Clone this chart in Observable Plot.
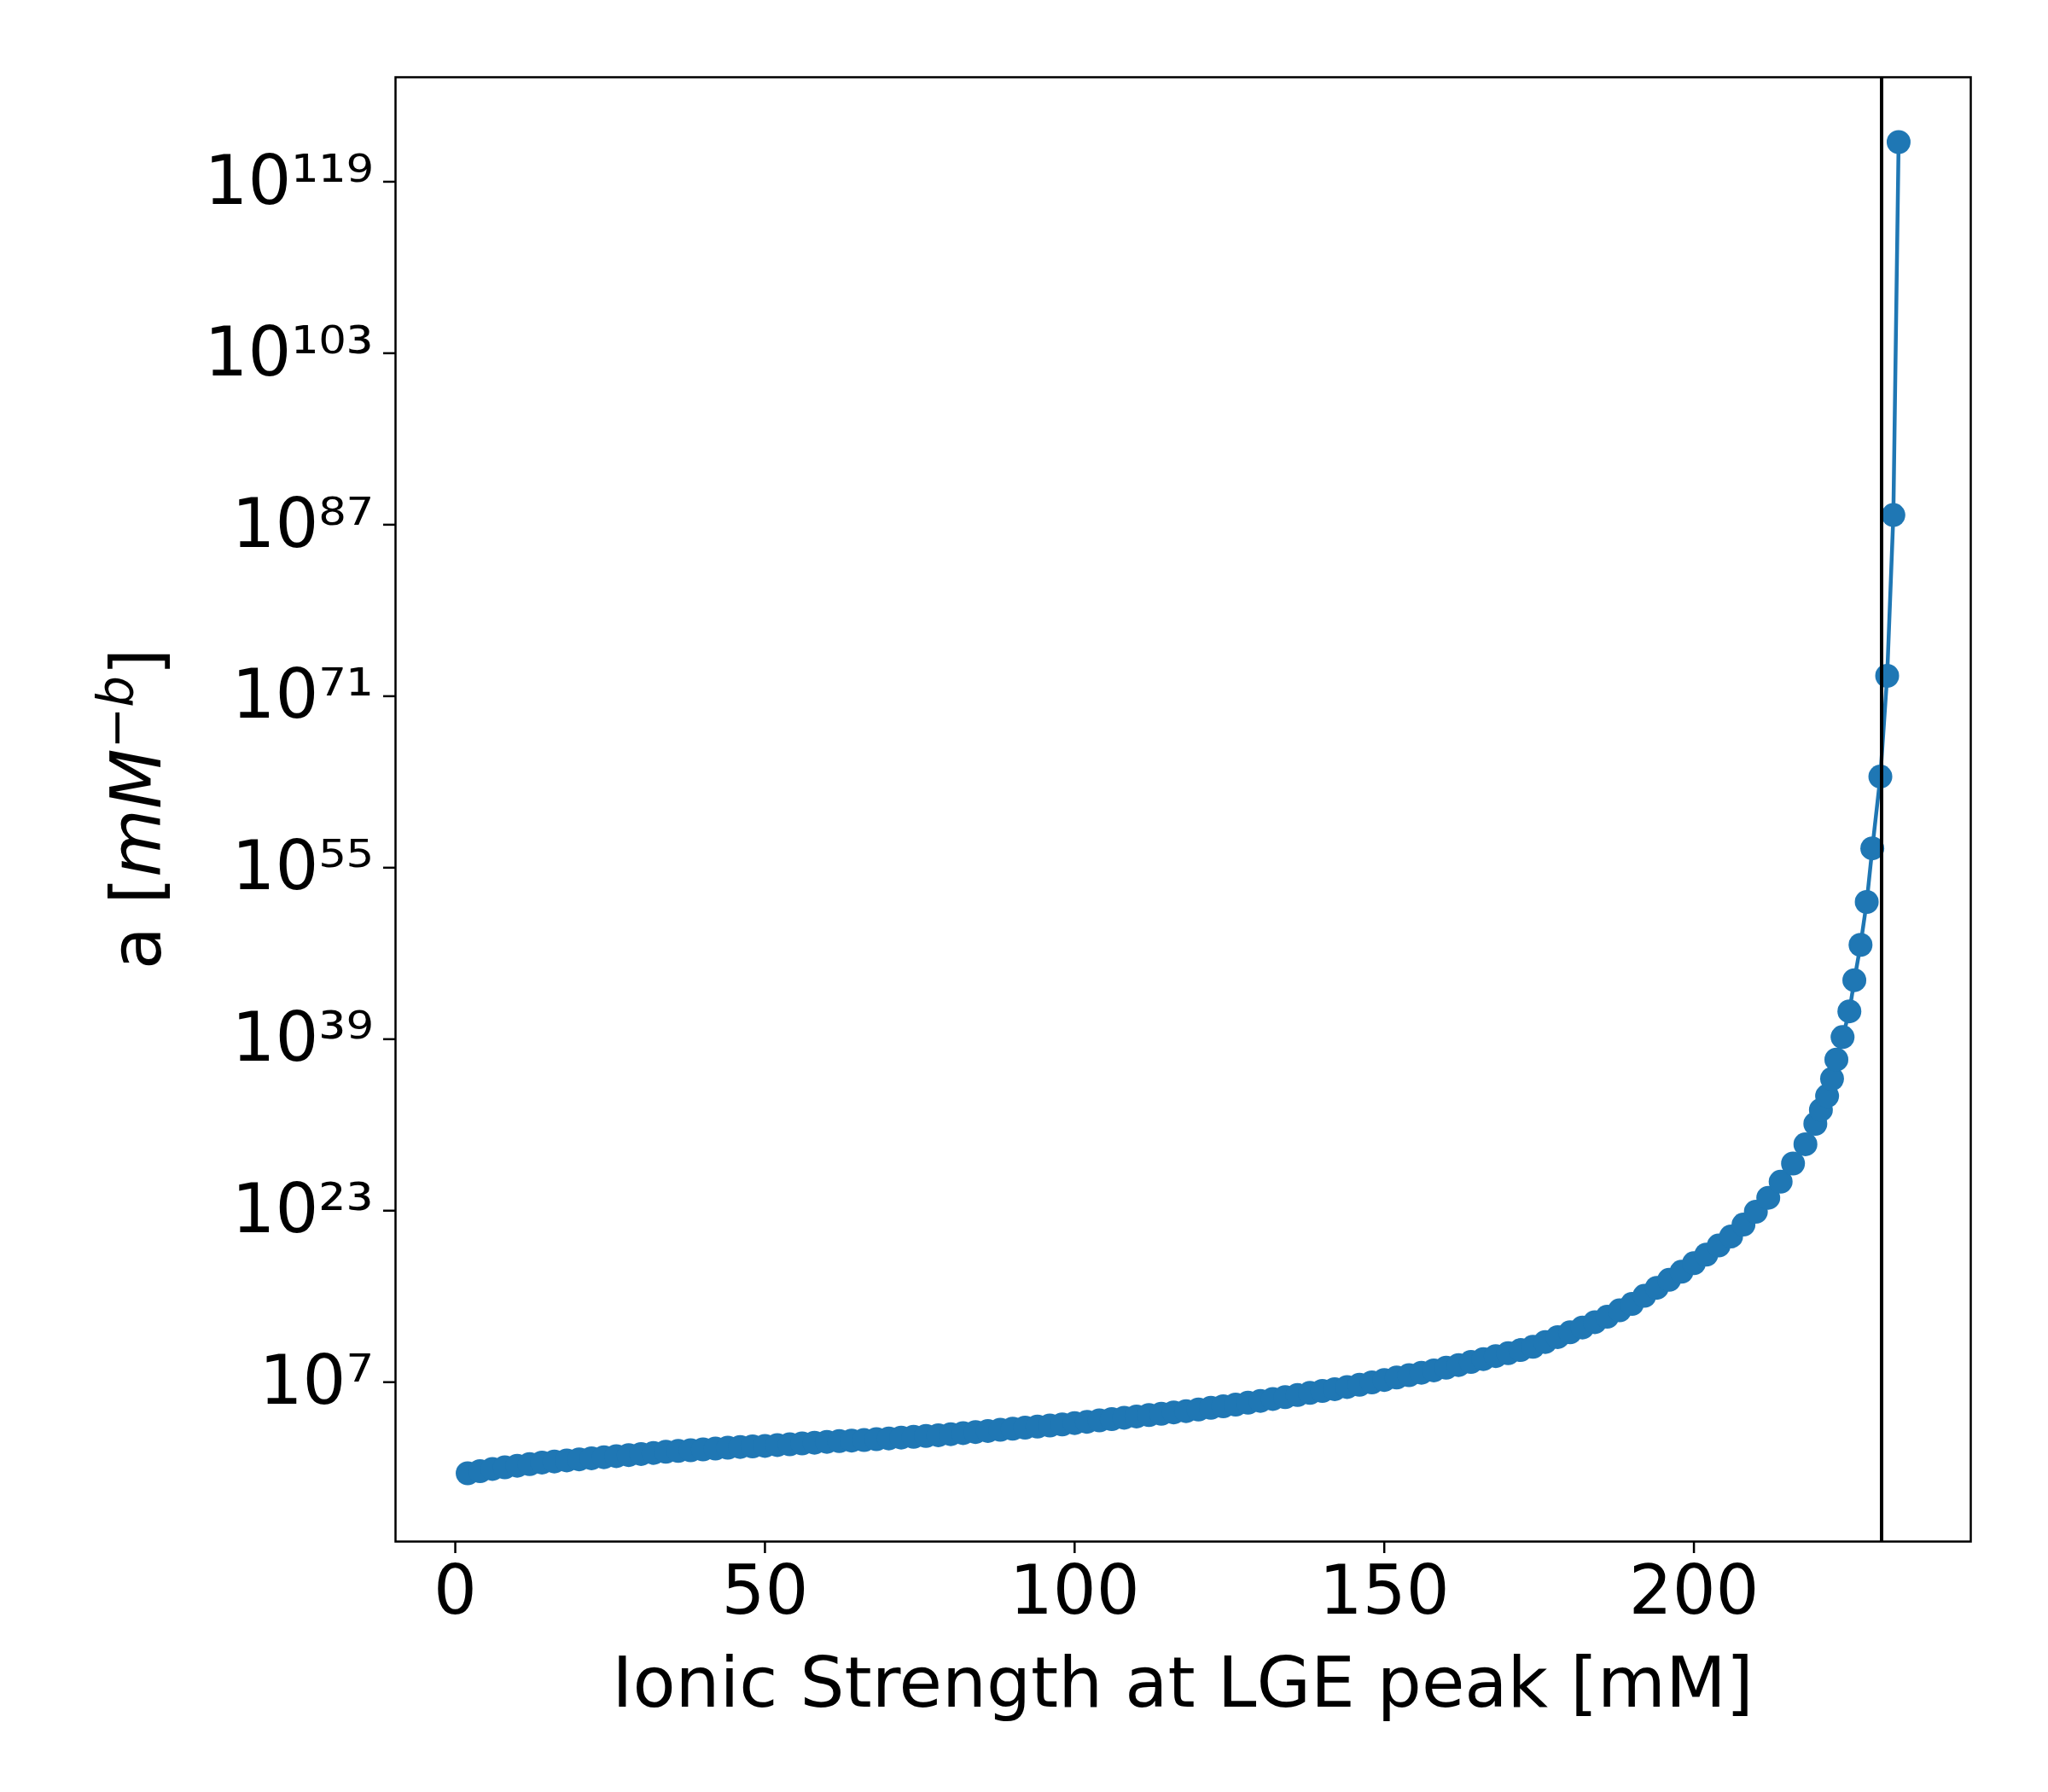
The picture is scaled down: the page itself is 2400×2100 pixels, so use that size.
<!DOCTYPE html>
<html>
<head>
<meta charset="utf-8">
<script src="https://cdn.jsdelivr.net/npm/d3@7"></script>
<script src="https://cdn.jsdelivr.net/npm/@observablehq/plot@0.6"></script>
<style>
  body { margin: 0; background: #fff; }
</style>
</head>
<body>
<div id="chart"></div>
<script>
// ionic strength at LGE peak [mM]
const ionic = [2, 4, 6, 8, 10, 12, 14, 16, 18, 20, 22, 24, 26, 28, 30, 32, 34, 36, 38, 40,
  42, 44, 46, 48, 50, 52, 54, 56, 58, 60, 62, 64, 66, 68, 70, 72, 74, 76, 78, 80,
  82, 84, 86, 88, 90, 92, 94, 96, 98, 100, 102, 104, 106, 108, 110, 112, 114, 116, 118, 120,
  122, 124, 126, 128, 130, 132, 134, 136, 138, 140, 142, 144, 146, 148, 150, 152, 154, 156, 158, 160,
  162, 164, 166, 168, 170, 172, 174, 176, 178, 180, 182, 184, 186, 188, 190, 192, 194, 196, 198, 200,
  202, 204, 206, 208, 210, 212, 214, 216, 218, 219.6, 220.5, 221.5, 222.3, 223, 224, 225.1, 225.9,
  226.9, 227.9, 228.8, 230.1, 231.2, 232.2, 233.05];
// log10 of a [mM^-b]
const logA = [-1.5, -1.3, -1.1, -0.95, -0.8, -0.65, -0.5, -0.4, -0.3, -0.2, -0.1, 0, 0.1, 0.2, 0.3, 0.4, 0.5, 0.58, 0.65, 0.72,
  0.8, 0.88, 0.95, 1.0, 1.05, 1.13, 1.2, 1.28, 1.35, 1.43, 1.5, 1.55, 1.6, 1.68, 1.75, 1.83, 1.9, 1.98, 2.05, 2.15,
  2.25, 2.35, 2.45, 2.55, 2.65, 2.75, 2.85, 2.95, 3.05, 3.18, 3.3, 3.43, 3.55, 3.68, 3.8, 3.93, 4.05, 4.18, 4.3, 4.45,
  4.6, 4.75, 4.9, 5.08, 5.25, 5.43, 5.6, 5.8, 6.0, 6.18, 6.35, 6.55, 6.75, 6.98, 7.2, 7.43, 7.65, 7.88, 8.1, 8.35,
  8.6, 8.88, 9.15, 9.43, 9.7, 10.0, 10.3, 10.75, 11.2, 11.65, 12.1, 12.6, 13.1, 13.7, 14.3, 15.05, 15.8, 16.55, 17.3, 18.1,
  18.9, 19.75, 20.6, 21.7, 22.9, 24.2, 25.7, 27.4, 29.2, 31.1, 32.4, 33.7, 35.3, 37.1, 39.2, 41.6, 44.5,
  47.8, 51.8, 56.8, 63.5, 72.9, 87.9, 122.7];
const vline = [230.3];
const xTicks = [0, 50, 100, 150, 200];
const yTickExp = [7, 23, 39, 55, 71, 87, 103, 119];

const data = ionic.map((x, i) => ({x, a: Math.pow(10, logA[i])}));
const sup = {"0":"⁰","1":"¹","2":"²","3":"³","4":"⁴","5":"⁵","6":"⁶","7":"⁷","8":"⁸","9":"⁹","-":"⁻"};
const fmt = v => "10" + String(Math.round(Math.log10(v))).split("").map(c => sup[c]).join("");

const blue = "#1f77b4";
const chart = Plot.plot({
  width: 2400,
  height: 2100,
  marginLeft: 463,
  marginRight: 91,
  marginTop: 90,
  marginBottom: 294,
  style: {fontFamily: "DejaVu Sans", fontSize: "80px", color: "#000", background: "#fff"},
  x: {domain: [-9.65, 244.7], ticks: xTicks, tickSize: 14, tickPadding: 14, label: null},
  y: {type: "log", domain: [Math.pow(10, -7.87), Math.pow(10, 128.75)], ticks: yTickExp.map(e => Math.pow(10, e)),
      tickFormat: fmt, tickSize: 14, tickPadding: 12, label: null},
  marks: [
    Plot.line(data, {x: "x", y: "a", stroke: blue, strokeWidth: 4.5}),
    Plot.dot(data, {x: "x", y: "a", r: 14, fill: blue, stroke: null}),
    Plot.ruleX(vline, {stroke: "#000", strokeWidth: 4}),
    Plot.frame({stroke: "#000", strokeWidth: 2.5})
  ]
});
document.getElementById("chart").append(chart);

const svg = d3.select(chart);
svg.selectAll("[aria-label$='tick'] path, [aria-label$='tick']").attr("stroke-width", 2.5);
svg.append("text")
  .attr("x", 1386).attr("y", 2000)
  .attr("text-anchor", "middle")
  .attr("font-size", 82).attr("font-family", "DejaVu Sans")
  .text("Ionic Strength at LGE peak [mM]");
const yl = svg.append("text")
  .attr("transform", "translate(188,948) rotate(-90)")
  .attr("text-anchor", "middle")
  .attr("font-size", 82).attr("font-family", "DejaVu Sans");
yl.append("tspan").text("a [");
yl.append("tspan").attr("font-style", "italic").text("mM");
yl.append("tspan").attr("font-style", "italic").attr("font-size", 58).attr("dy", -32).text("−b");
yl.append("tspan").attr("dy", 32).text("]");
</script>
</body>
</html>
